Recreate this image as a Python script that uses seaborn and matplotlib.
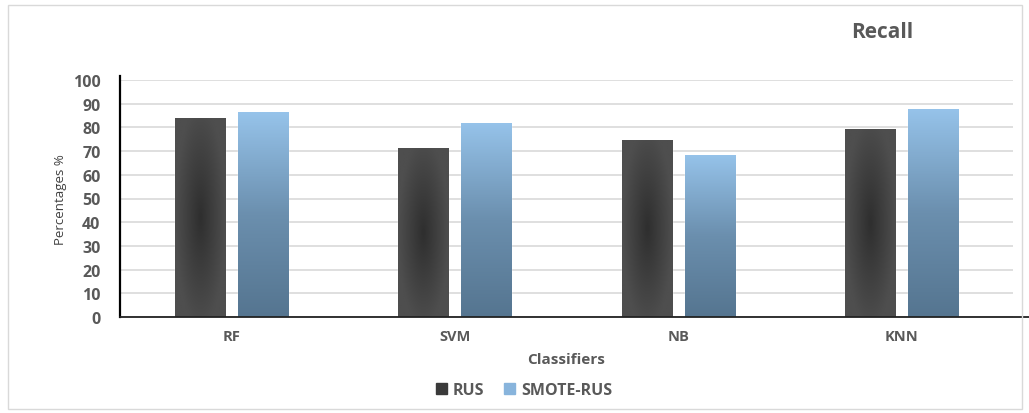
import numpy as np
import pandas as pd
import matplotlib
matplotlib.use("Agg")
import matplotlib.pyplot as plt
import seaborn as sns
from matplotlib.patches import Rectangle
from matplotlib.lines import Line2D

classifiers = ["RF", "SVM", "NB", "KNN"]
rus = [84.0, 71.3, 74.8, 79.3]
smote_rus = [86.3, 81.9, 68.4, 87.8]
yticks = [0, 10, 20, 30, 40, 50, 60, 70, 80, 90, 100]

df = pd.DataFrame({
    "Classifiers": classifiers * 2,
    "Percentages": rus + smote_rus,
    "Method": ["RUS"] * len(classifiers) + ["SMOTE-RUS"] * len(classifiers),
})

sns.set_theme(style="white")
plt.rcParams["font.family"] = ["Open Sans", "DejaVu Sans"]
text_col = "#595959"

fig = plt.figure(figsize=(10.29, 4.14), dpi=100)
ax = fig.add_axes([120 / 1029, 1 - 318 / 414, (1013 - 120) / 1029, (318 - 81) / 414])

sns.barplot(data=df, x="Classifiers", y="Percentages", hue="Method",
            palette={"RUS": "#404040", "SMOTE-RUS": "#7fa6cc"},
            width=0.564, gap=0.205, ax=ax, legend=False, zorder=2)

# gradient fills clipped to each bar
n = len(classifiers)
yy = np.linspace(0, 1, 200)
xx = np.linspace(-1, 1, 60)
X, Y = np.meshgrid(xx, yy)
dark_cmap = matplotlib.colors.LinearSegmentedColormap.from_list("d", ["#2f2f2f", "#4e4e4e"])
blue_cmap = matplotlib.colors.LinearSegmentedColormap.from_list("b", ["#557590", "#6b8fae", "#96c3ea"])
for i, p in enumerate(ax.patches[:2 * n]):
    x0 = p.get_x()
    w, h = p.get_width(), p.get_height()
    if i < n:
        # radial-like shading centred in the lower middle of the bar
        r = np.sqrt(X ** 2 + ((Y * 100 - h * 0.5) / (h * 0.55)) ** 2)
        img = np.clip(r, 0, 1)
        cmap = dark_cmap
        extent = (x0, x0 + w, 0, 100)
    else:
        img = np.linspace(0, 1, 200)[:, None] * np.ones((1, 60))
        cmap = blue_cmap
        extent = (x0, x0 + w, 0, h)
    im = ax.imshow(img, extent=extent, origin="lower", cmap=cmap, aspect="auto",
                   zorder=3, interpolation="bilinear")
    im.set_clip_path(p)

ax.set_xlim(-0.5, n - 0.5)
ax.set_ylim(0, 100)
ax.set_yticks(yticks)
ax.yaxis.grid(True, color="#d9d9d9", linewidth=1.2, zorder=0)
ax.set_axisbelow(True)
for s in ["top", "right", "bottom"]:
    ax.spines[s].set_visible(False)
ax.spines["left"].set_color("#000000")
ax.spines["left"].set_linewidth(1.6)
ax.spines["left"].set_bounds(0, 101.5)
# baseline runs on past the last category
ax.add_line(Line2D([0, (1029 - 120) / 893], [0, 0], transform=ax.transAxes,
                   color="#222222", linewidth=1.3, clip_on=False, zorder=4))
ax.tick_params(axis="y", length=0, labelsize=11.5, labelcolor=text_col, pad=14)
ax.tick_params(axis="x", length=0, labelsize=10.5, labelcolor=text_col, pad=9)
for lab in ax.get_xticklabels() + ax.get_yticklabels():
    lab.set_fontweight("bold")
ax.set_ylabel("Percentages %", fontsize=9.5, color="#404040")
ax.yaxis.set_label_coords(-0.059, 0.5)
ax.set_xlabel("Classifiers", fontsize=11, fontweight="bold", color=text_col)
ax.xaxis.set_label_coords(0.5, -0.147)

fig.text(882 / 1029, 1 - 32 / 414, "Recall", ha="center", va="center",
         fontsize=15, fontweight="bold", color=text_col)

handles = [Rectangle((0, 0), 1, 1, color="#3a3a3a"), Rectangle((0, 0), 1, 1, color="#88b4dc")]
fig.legend(handles, ["RUS", "SMOTE-RUS"], loc="center", bbox_to_anchor=(524 / 1029, 1 - 391 / 414),
           ncol=2, frameon=False, handlelength=0.7, handleheight=0.7, handletextpad=0.4,
           columnspacing=1.2, prop={"weight": "bold", "size": 11.5}, labelcolor=text_col)

fig.patches.append(Rectangle((8 / 1029, 4 / 414), 1014 / 1029, 404 / 414, transform=fig.transFigure,
                             fill=False, edgecolor="#d9d9d9", linewidth=1))

fig.savefig("out.png", dpi=100)
